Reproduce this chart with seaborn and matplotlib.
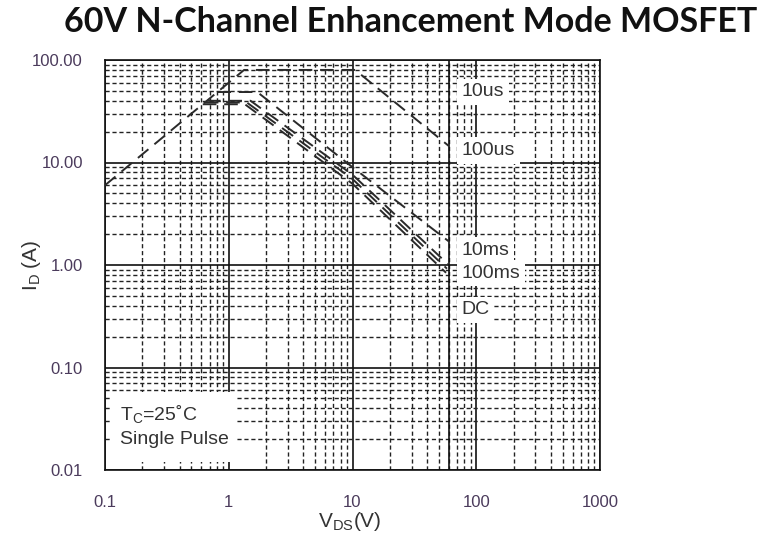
import numpy as np
import pandas as pd
import matplotlib
matplotlib.use("Agg")
import matplotlib.pyplot as plt
from matplotlib.patches import Rectangle
from matplotlib.ticker import LogLocator, NullFormatter
import seaborn as sns

# ---- data ----
curve_names = ["10us", "100us", "10ms", "100ms", "DC"]
vds_10us = [0.1, 1.33, 10.5, 60]
id_10us = [6.0, 80.0, 80.0, 14.5]
vds_100us = [0.81, 1.7, 10.0, 60]
id_100us = [48.7, 48.7, 9.0, 1.7]
vds_10ms = [0.667, 1.5, 10.0, 59]
id_10ms = [40.0, 40.0, 7.6, 1.02]
vds_100ms = [0.64, 1.4, 10.0, 58]
id_100ms = [38.5, 38.5, 6.9, 0.92]
vds_dc = [0.617, 1.35, 10.0, 57]
id_dc = [37.0, 37.0, 6.2, 0.84]
vds_max = 60  # BVDSS limit line

x_ticks = [0.1, 1, 10, 100, 1000]
x_tick_labels = ["0.1", "1", "10", "100", "1000"]
y_ticks = [0.01, 0.1, 1, 10, 100]
y_tick_labels = ["0.01", "0.10", "1.00", "10.00", "100.00"]

label_x = [76, 76, 76, 76, 76]
label_y = [48.8, 13.2, 1.4, 0.835, 0.364]

frames = []
for name, xs, ys in zip(curve_names,
                        [vds_10us, vds_100us, vds_10ms, vds_100ms, vds_dc],
                        [id_10us, id_100us, id_10ms, id_100ms, id_dc]):
    frames.append(pd.DataFrame({"VDS": xs, "ID": ys, "curve": name}))
df = pd.concat(frames, ignore_index=True)

sns.set_theme(style="white")
plt.rcParams["font.family"] = ["Liberation Sans", "DejaVu Sans"]
FONT = ["Liberation Sans", "DejaVu Sans"]

fig = plt.figure(figsize=(7.7, 5.36), dpi=100)
ax = fig.add_axes([105 / 770, 1 - 470 / 536, 495 / 770, 410 / 536])

ax.set_xscale("log")
ax.set_yscale("log")
ax.set_xlim(0.1, 1000)
ax.set_ylim(0.01, 100)

# grid
ax.xaxis.set_minor_locator(LogLocator(base=10, subs=np.arange(2, 10)))
ax.yaxis.set_minor_locator(LogLocator(base=10, subs=np.arange(2, 10)))
ax.xaxis.set_minor_formatter(NullFormatter())
ax.yaxis.set_minor_formatter(NullFormatter())
ax.grid(which="major", color="#111111", linewidth=1.2, linestyle="-", zorder=0)
ax.grid(which="minor", color="#222222", linewidth=1.0, linestyle=(0, (3, 2)), zorder=0)
ax.set_axisbelow(True)

ax.axvline(vds_max, color="#111111", linewidth=1.2, zorder=1)

for name in curve_names:
    sub = df[df["curve"] == name]
    sns.lineplot(data=sub, x="VDS", y="ID", ax=ax, sort=False, estimator=None,
                 color="#2a2a2a", linewidth=1.4, zorder=3)
for line in ax.get_lines()[1:]:
    line.set_linestyle((0, (7, 4)))

ax.set_xticks(x_ticks)
ax.set_xticklabels(x_tick_labels, family=FONT)
ax.set_yticks(y_ticks)
ax.set_yticklabels(y_tick_labels, family=FONT)
ax.tick_params(axis="both", which="both", length=0)
ax.tick_params(axis="x", pad=18, labelsize=12, labelcolor="#4b3b5c")
ax.tick_params(axis="y", pad=16, labelsize=12, labelcolor="#4b3b5c")

for s in ax.spines.values():
    s.set_color("#111111")
    s.set_linewidth(1.2)

# curve labels
for name, lx, ly in zip(curve_names, label_x, label_y):
    ax.text(lx, ly, name, fontsize=14, color="#333333", ha="left", va="center", zorder=5,
            family=FONT,
            bbox=dict(facecolor="white", edgecolor="none", boxstyle="square,pad=0.25"))

# condition box
ax.add_patch(Rectangle((0.01, 0.0195), 0.2545, 0.171, transform=ax.transAxes,
                       facecolor="white", edgecolor="none", zorder=4))
ax.text(0.03, 0.135, "T$_\\mathregular{C}$=25\u02daC", transform=ax.transAxes, fontsize=14,
        color="#333333", ha="left", va="center", zorder=5, family=FONT)
ax.text(0.03, 0.075, "Single Pulse", transform=ax.transAxes, fontsize=14,
        color="#333333", ha="left", va="center", zorder=5, family=FONT)

ax.set_xlabel("V$_\\mathregular{DS}$(V)", fontsize=15, color="#333333", family=FONT)
ax.set_ylabel("I$_\\mathregular{D}$ (A)", fontsize=15, color="#333333", family=FONT)
ax.xaxis.set_label_coords(0.495, -0.097)
ax.yaxis.set_label_coords(-0.125, 0.5)

fig.text(411 / 770, 1 - 22 / 536, "60V N-Channel Enhancement Mode MOSFET",
         fontsize=24.5, fontweight="bold", family="Lato", ha="center", va="center", color="#111111")

fig.savefig("out.png", dpi=100)
